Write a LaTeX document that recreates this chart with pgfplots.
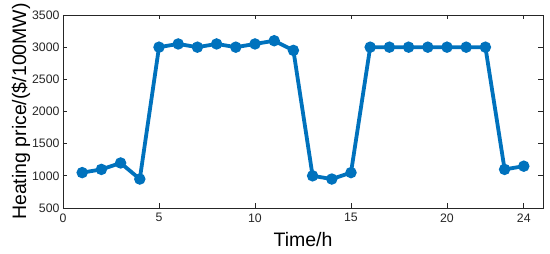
\documentclass[border=0pt]{standalone}
\usepackage{pgfplots}
\pgfplotsset{compat=1.18}
\usepackage{fontspec}
\setmainfont{Liberation Sans}
\definecolor{mblue}{RGB}{0,114,189}
\definecolor{axgray}{RGB}{38,38,38}
\begin{document}
\begin{tikzpicture}
\useasboundingbox (-63pt,-46pt) rectangle (487pt,208pt);
\begin{axis}[
  at={(0,0)}, anchor=south west,
  scale only axis, width=480pt, height=193pt,
  xmin=0, xmax=25, ymin=500, ymax=3500,
  xtick={0,5,10,15,20,24},
  ytick={500,1000,1500,2000,2500,3000,3500},
  tick align=inside, major tick length=4.5pt,
  axis line style={axgray, line width=0.7pt},
  tick style={axgray, line width=0.7pt},
  every tick label/.append style={font=\fontsize{12.3}{14}\selectfont, text=axgray},
  /pgf/number format/assume math mode=true,
  /pgf/number format/1000 sep={},
  xlabel={Time/h}, ylabel={Heating price/(\$/100MW)},
  label style={font=\fontsize{19.5}{22}\selectfont, text=black},
  xlabel style={yshift=-3pt},
  ylabel style={yshift=-5pt},
  xticklabel style={yshift=-2pt},
]
\addplot[mblue, line width=3.8pt, mark=*, mark size=3.5pt, mark options={draw=mblue, fill=none, line width=4.2pt}] coordinates {
(1,1050)(2,1100)(3,1200)(4,950)(5,3000)(6,3050)(7,3000)(8,3050)(9,3000)(10,3050)(11,3100)(12,2950)
(13,1000)(14,950)(15,1050)(16,3000)(17,3000)(18,3000)(19,3000)(20,3000)(21,3000)(22,3000)(23,1100)(24,1150)};
\end{axis}
\end{tikzpicture}
\end{document}
